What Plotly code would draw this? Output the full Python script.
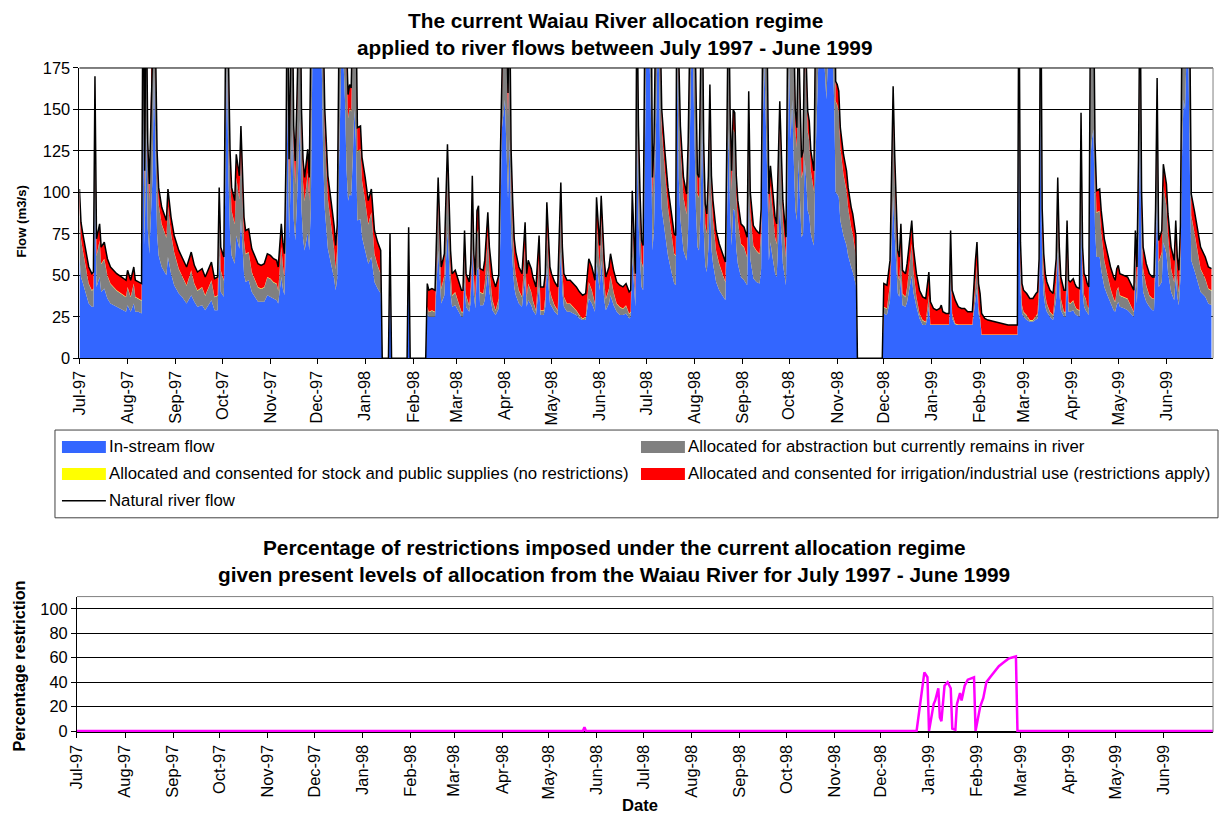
import pandas as pd
import plotly.graph_objects as go

# ---------------------------------------------------------------------------
# Waiau River daily flows, July 1997 - June 1999 (m3/s)
# flow_day: days since 1 July 1997; zero flows mark missing record
# ---------------------------------------------------------------------------
flow_day = [
    0, 1, 2, 4, 6, 8, 9, 10, 11, 13, 14, 16, 18, 20, 24, 27, 30, 31, 33, 35,
    36, 38, 40, 41, 42, 43, 44, 45, 47, 48, 49, 50, 51, 53, 56, 57, 59, 61, 64, 66,
    69, 72, 74, 76, 79, 81, 83, 85, 87, 89, 90, 91, 93, 94, 95, 96, 97, 98, 100, 101,
    103, 104, 106, 107, 109, 111, 113, 115, 117, 119, 121, 123, 125, 127, 128, 130, 131, 132, 133, 134,
    135, 136, 137, 138, 139, 140, 141, 142, 143, 144, 145, 147, 148, 149, 150, 151, 152, 153, 154, 155,
    156, 157, 158, 160, 162, 164, 165, 166, 167, 168, 169, 170, 171, 172, 173, 174, 175, 176, 177, 178,
    179, 181, 182, 184, 186, 188, 190, 192, 194, 195, 199, 200, 201, 211, 212, 213, 223, 224, 225, 227,
    229, 231, 233, 235, 237, 239, 240, 242, 244, 246, 247, 248, 249, 251, 252, 253, 254, 255, 256, 257,
    258, 260, 261, 263, 264, 266, 268, 270, 271, 272, 274, 275, 276, 277, 278, 279, 280, 281, 283, 285,
    287, 288, 289, 291, 292, 294, 296, 297, 299, 300, 301, 303, 304, 306, 308, 310, 311, 312, 314, 316,
    318, 320, 322, 324, 326, 328, 330, 332, 333, 335, 336, 338, 339, 341, 342, 344, 346, 348, 350, 352,
    354, 355, 356, 358, 359, 360, 361, 362, 363, 364, 365, 366, 367, 368, 369, 370, 371, 372, 373, 374,
    375, 377, 379, 381, 383, 384, 385, 386, 387, 389, 391, 392, 393, 394, 395, 396, 397, 398, 399, 400,
    401, 402, 403, 404, 405, 406, 407, 408, 410, 412, 414, 416, 417, 418, 419, 420, 421, 422, 423, 424,
    426, 428, 430, 431, 432, 433, 434, 436, 438, 439, 440, 441, 442, 443, 444, 445, 446, 448, 449, 451,
    452, 453, 455, 456, 457, 458, 459, 460, 461, 462, 463, 464, 465, 466, 467, 468, 469, 470, 471, 472,
    473, 474, 475, 476, 477, 478, 479, 480, 481, 482, 483, 484, 485, 486, 487, 488, 489, 490, 492, 494,
    495, 496, 497, 498, 499, 500, 501, 517, 518, 520, 522, 523, 524, 525, 526, 527, 528, 529, 530, 532,
    533, 535, 536, 537, 538, 539, 541, 543, 545, 546, 547, 548, 550, 552, 554, 555, 556, 558, 560, 561,
    562, 564, 566, 568, 570, 572, 575, 577, 578, 579, 580, 581, 583, 585, 589, 594, 598, 604, 605, 606,
    607, 608, 610, 612, 614, 616, 617, 618, 619, 620, 621, 622, 623, 625, 627, 629, 630, 631, 632, 634,
    635, 636, 637, 638, 640, 641, 642, 644, 645, 646, 647, 648, 649, 650, 651, 652, 653, 654, 655, 657,
    658, 660, 662, 664, 666, 667, 668, 669, 670, 673, 675, 677, 679, 680, 681, 682, 683, 684, 685, 687,
    689, 691, 692, 693, 694, 695, 697, 698, 700, 701, 703, 705, 706, 707, 708, 709, 710, 711, 712, 713,
    714, 715, 716, 718, 720, 722, 725, 727, 729,
]

natural_flow = [
    102, 82, 76, 66, 55, 51, 52, 170, 72, 81, 67, 70, 60, 55, 51, 49, 47, 53, 47, 55,
    47, 46, 45, 250, 113, 230, 130, 105, 180, 290, 190, 125, 103, 91, 83, 102, 85, 74, 65, 61,
    55, 64, 56, 52, 54, 49, 53, 58, 48, 49, 103, 67, 61, 170, 300, 180, 125, 103, 95, 123,
    110, 140, 85, 77, 78, 66, 62, 57, 56, 57, 63, 62, 60, 59, 55, 81, 70, 63, 120, 260,
    120, 180, 230, 140, 119, 154, 200, 240, 150, 120, 109, 126, 109, 150, 300, 360, 330, 300, 320, 340,
    300, 200, 150, 110, 95, 80, 68, 80, 180, 300, 330, 300, 260, 190, 159, 165, 163, 200, 250, 220,
    139, 140, 121, 109, 95, 102, 77, 70, 65, 0, 0, 75, 0, 0, 79, 0, 0, 45, 41, 42,
    41, 109, 55, 63, 129, 65, 51, 53, 47, 41, 41, 77, 51, 46, 57, 110, 63, 50, 89, 92,
    54, 53, 59, 88, 67, 49, 43, 50, 119, 230, 260, 200, 160, 220, 125, 95, 72, 64, 55, 51,
    82, 51, 59, 54, 49, 43, 74, 43, 43, 51, 94, 55, 51, 46, 43, 106, 67, 51, 47, 47,
    45, 43, 40, 38, 39, 60, 55, 47, 97, 68, 98, 59, 49, 55, 63, 53, 46, 44, 43, 45,
    40, 41, 101, 51, 230, 140, 100, 71, 68, 200, 310, 330, 310, 250, 109, 130, 200, 290, 310, 200,
    150, 125, 103, 89, 75, 74, 300, 180, 140, 109, 99, 130, 200, 300, 310, 220, 150, 111, 109, 150,
    240, 130, 93, 87, 110, 165, 110, 95, 77, 69, 63, 58, 140, 230, 150, 113, 150, 148, 110, 95,
    81, 79, 73, 161, 100, 88, 80, 77, 75, 90, 230, 300, 250, 180, 99, 116, 105, 85, 81, 155,
    125, 95, 73, 200, 300, 220, 260, 200, 150, 139, 200, 160, 121, 125, 200, 180, 149, 143, 125, 119,
    113, 200, 280, 340, 360, 350, 320, 300, 260, 300, 330, 340, 310, 260, 167, 165, 161, 139, 123, 113,
    103, 96, 91, 87, 80, 74, 0, 0, 45, 44, 59, 120, 164, 123, 89, 65, 61, 81, 53, 51,
    57, 75, 83, 67, 59, 51, 41, 37, 36, 44, 52, 34, 30, 29, 30, 32, 28, 27, 27, 77,
    41, 35, 31, 30, 30, 28, 28, 59, 70, 45, 39, 27, 24, 23, 22, 21, 20, 20, 240, 70,
    45, 41, 39, 36, 36, 39, 40, 60, 250, 90, 63, 51, 46, 41, 39, 60, 109, 67, 49, 41,
    41, 83, 47, 46, 48, 45, 43, 42, 148, 67, 51, 49, 45, 43, 200, 220, 230, 130, 101, 102,
    89, 72, 63, 55, 49, 47, 54, 56, 51, 50, 49, 45, 41, 77, 55, 120, 230, 100, 67, 57,
    51, 49, 49, 90, 169, 71, 77, 117, 105, 87, 67, 59, 83, 61, 53, 80, 200, 260, 250, 310,
    320, 200, 99, 89, 77, 67, 61, 55, 54,
]

# flow left in the river after all allocation is taken
instream_flow = [
    61, 49, 46, 40, 33, 31, 31, 102, 43, 49, 40, 42, 36, 33, 31, 29, 28, 32, 28, 33,
    28, 28, 27, 150, 68, 138, 78, 63, 108, 174, 114, 75, 62, 55, 50, 61, 51, 44, 39, 37,
    33, 38, 34, 31, 32, 29, 32, 35, 29, 29, 62, 40, 37, 102, 180, 108, 75, 62, 57, 74,
    66, 84, 51, 46, 47, 40, 37, 34, 34, 34, 38, 37, 36, 35, 33, 49, 42, 38, 72, 156,
    72, 108, 138, 84, 71, 92, 120, 144, 90, 72, 65, 76, 65, 90, 180, 216, 198, 180, 192, 204,
    180, 120, 90, 66, 57, 48, 41, 48, 108, 180, 198, 180, 156, 114, 95, 99, 98, 120, 150, 132,
    83, 84, 73, 65, 57, 61, 46, 42, 39, 0, 0, 45, 0, 0, 47, 0, 0, 27, 25, 25,
    25, 65, 33, 38, 77, 39, 31, 32, 28, 25, 25, 46, 31, 28, 34, 66, 38, 30, 53, 55,
    32, 32, 35, 53, 40, 29, 26, 30, 71, 138, 156, 120, 96, 132, 75, 57, 43, 38, 33, 31,
    49, 31, 35, 32, 29, 26, 44, 26, 26, 31, 56, 33, 31, 28, 26, 64, 40, 31, 28, 28,
    27, 26, 24, 23, 23, 36, 33, 28, 58, 41, 59, 35, 29, 33, 38, 32, 28, 26, 26, 27,
    24, 25, 61, 31, 138, 84, 60, 43, 41, 120, 186, 198, 186, 150, 65, 78, 120, 174, 186, 120,
    90, 75, 62, 53, 45, 44, 180, 108, 84, 65, 59, 78, 120, 180, 186, 132, 90, 67, 65, 90,
    144, 78, 56, 52, 66, 99, 66, 57, 46, 41, 38, 35, 84, 138, 90, 68, 90, 89, 66, 57,
    49, 47, 44, 97, 60, 53, 48, 46, 45, 54, 138, 180, 150, 108, 59, 70, 63, 51, 49, 93,
    75, 57, 44, 120, 180, 132, 156, 120, 90, 83, 120, 96, 73, 75, 120, 108, 89, 86, 75, 71,
    68, 120, 168, 204, 216, 210, 192, 180, 156, 180, 198, 204, 186, 156, 100, 99, 97, 83, 74, 68,
    62, 58, 55, 52, 48, 44, 0, 0, 27, 26, 35, 72, 98, 74, 53, 39, 37, 49, 32, 31,
    34, 45, 50, 40, 35, 31, 24, 20, 20, 24, 31, 20, 20, 20, 20, 20, 20, 20, 20, 46,
    24, 20, 20, 20, 20, 20, 20, 35, 42, 27, 23, 14, 14, 14, 14, 14, 14, 14, 144, 42,
    27, 25, 23, 22, 22, 23, 24, 36, 150, 54, 38, 31, 28, 25, 23, 36, 65, 40, 29, 25,
    25, 50, 28, 28, 29, 27, 26, 25, 89, 40, 31, 29, 27, 26, 120, 132, 138, 78, 61, 61,
    53, 43, 38, 33, 29, 28, 32, 34, 31, 30, 29, 27, 25, 46, 33, 72, 138, 60, 40, 34,
    31, 29, 29, 54, 101, 43, 46, 70, 63, 52, 40, 35, 50, 37, 32, 48, 120, 156, 150, 186,
    192, 120, 59, 53, 46, 40, 37, 33, 32,
]

# consented irrigation / industrial take actually available (after restrictions)
irrigation_take = [
    10, 10, 10, 10, 10, 10, 10, 10, 10, 10, 10, 10, 10, 10, 10, 10, 10, 10, 10, 10,
    10, 10, 10, 10, 10, 10, 10, 10, 10, 10, 10, 10, 10, 10, 10, 10, 10, 10, 11, 11,
    11, 11, 11, 11, 11, 11, 11, 11, 11, 11, 11, 14, 14, 14, 14, 14, 14, 14, 14, 14,
    14, 14, 14, 14, 14, 14, 14, 14, 14, 14, 14, 14, 14, 14, 14, 14, 14, 14, 14, 14,
    14, 14, 14, 14, 14, 14, 14, 14, 14, 14, 14, 14, 14, 14, 14, 14, 14, 14, 14, 14,
    14, 14, 14, 14, 14, 14, 14, 14, 14, 14, 14, 14, 14, 14, 14, 14, 14, 14, 14, 14,
    14, 14, 14, 14, 14, 14, 14, 14, 14, 0, 0, 14, 0, 0, 14, 0, 0, 14, 13, 13,
    13, 13, 13, 13, 13, 13, 13, 13, 13, 13, 13, 13, 13, 14, 14, 14, 14, 14, 14, 14,
    14, 14, 14, 14, 14, 14, 14, 14, 14, 14, 14, 14, 14, 14, 14, 14, 14, 14, 14, 14,
    14, 14, 14, 14, 14, 14, 14, 14, 14, 14, 14, 14, 14, 14, 14, 14, 14, 14, 14, 14,
    14, 14, 14, 14, 14, 14, 14, 14, 14, 13, 13, 13, 13, 13, 13, 13, 13, 13, 13, 13,
    13, 13, 13, 13, 13, 13, 13, 13, 13, 13, 12, 12, 12, 12, 12, 12, 12, 12, 12, 12,
    12, 12, 12, 12, 12, 12, 12, 12, 12, 12, 12, 12, 12, 12, 12, 12, 12, 12, 12, 12,
    12, 12, 12, 12, 12, 12, 12, 12, 12, 12, 12, 12, 12, 12, 12, 12, 12, 12, 12, 12,
    12, 12, 12, 12, 12, 12, 12, 12, 12, 12, 12, 12, 12, 12, 12, 12, 12, 12, 12, 12,
    12, 12, 12, 12, 12, 12, 12, 12, 12, 12, 12, 12, 12, 12, 12, 12, 12, 12, 12, 12,
    12, 12, 12, 12, 12, 12, 12, 12, 12, 12, 12, 12, 12, 12, 12, 12, 12, 12, 12, 12,
    12, 12, 12, 12, 12, 12, 0, 0, 14, 14, 14, 14, 14, 14, 14, 14, 14, 14, 14, 14,
    14, 14, 14, 14, 14, 14, 14, 14, 14, 14, 14, 13.7, 9.7, 8.7, 9.7, 11.7, 7.7, 6.7, 6.7, 14,
    14, 14, 10.7, 9.7, 9.7, 7.7, 7.7, 14, 14, 14, 14, 12.7, 9.7, 8.7, 7.7, 6.7, 5.7, 5.7, 13, 13,
    13, 13, 13, 13, 13, 13, 13, 13, 13, 13, 13, 13, 13, 13, 13, 13, 13, 13, 13, 13,
    13, 13, 13, 13, 13, 13, 13, 13, 13, 13, 13, 13, 13, 13, 13, 13, 13, 13, 13, 13,
    13, 13, 13, 13, 13, 13, 13, 13, 13, 13, 13, 13, 13, 13, 13, 13, 13, 13, 13, 13,
    13, 13, 13, 13, 13, 13, 13, 13, 13, 13, 13, 13, 13, 13, 13, 13, 13, 13, 13, 13,
    13, 13, 13, 13, 13, 13, 13, 13, 13,
]

STOCK_SUPPLY = 0.3  # stock and public supply take (m3/s), never restricted

# percentage restriction on irrigation takes (days since 1 July 1997)
restriction_day = [
    0, 326, 327, 328, 541, 546, 548, 549, 552, 553, 555, 556, 557, 559, 561, 563, 564, 566, 567, 569,
    570, 572, 574, 577, 578, 579, 582, 584, 586, 589, 591, 594, 597, 600, 602, 604, 605, 606, 733,
]
restriction_pct = [
    0, 0, 3, 0, 0, 48, 44, 0, 22, 25, 35, 11, 8, 37, 40, 35, 2, 1, 22, 31,
    25, 37, 42, 44, 44, 0, 20, 27, 40, 45, 48, 53, 56, 59, 60, 61, 61, 0, 0,
]

month_ticks = ["Jul-97", "Aug-97", "Sep-97", "Oct-97", "Nov-97", "Dec-97", "Jan-98", "Feb-98",
               "Mar-98", "Apr-98", "May-98", "Jun-98", "Jul-98", "Aug-98", "Sep-98", "Oct-98",
               "Nov-98", "Dec-98", "Jan-99", "Feb-99", "Mar-99", "Apr-99", "May-99", "Jun-99"]

# ---------------------------------------------------------------------------
START = pd.Timestamp("1997-07-01")
dates = START + pd.to_timedelta(flow_day, unit="D")
r_dates = START + pd.to_timedelta(restriction_day, unit="D")
tick_dates = pd.date_range("1997-07-01", periods=len(month_ticks), freq="MS")

stock = [STOCK_SUPPLY if n > 0 else 0.0 for n in natural_flow]
remaining = [max(n - b - r - s, 0.0) for n, b, r, s in
             zip(natural_flow, instream_flow, irrigation_take, stock)]

FONT = "Arial, Liberation Sans, sans-serif"

# Figure size, plus the conversion from window positions to paper fractions:
# the page keeps an 8px body margin and the view of the page spans 1235x834.
W, H = 1227, 826
BODY = 8
SX, SY = 1235 / 1227, 834 / 818
FS = 1.013  # matching text enlargement


def fx(px):
    return (px * SX - BODY) / W


def fy(py):
    return 1 - (py * SY - BODY) / H


def fs(size):
    return round(size * FS, 1)


fig = go.Figure()

area_series = [
    ("In-stream flow", instream_flow, "#3366FF"),
    ("Allocated for abstraction but currently remains in river", remaining, "#808080"),
    ("Allocated and consented for stock and public supplies (no restrictions)", stock, "#FFFF00"),
    ("Allocated and consented for irrigation/industrial use (restrictions apply)", irrigation_take, "#FF0000"),
]
for name, vals, col in area_series:
    fig.add_trace(go.Scatter(
        x=dates, y=vals, name=name, stackgroup="flow", mode="lines",
        line=dict(width=0, color=col), fillcolor=col, xaxis="x", yaxis="y",
    ))

fig.add_trace(go.Scatter(
    x=dates, y=natural_flow, name="Natural river flow", mode="lines",
    line=dict(color="black", width=1.5), xaxis="x", yaxis="y",
))

fig.add_trace(go.Scatter(
    x=r_dates, y=restriction_pct, name="Restriction", mode="lines",
    line=dict(color="#FF00FF", width=2.5), xaxis="x2", yaxis="y2",
))

x_common = dict(
    type="date", tickvals=tick_dates, ticktext=month_ticks, tickangle=-90,
    ticks="outside", ticklen=5, tickcolor="black", showline=True, linecolor="black",
    linewidth=1, showgrid=False, zeroline=False,
    tickfont=dict(family=FONT, size=fs(16.2), color="black"),
)
y_common = dict(
    ticks="outside", ticklen=5, tickcolor="black", showline=True, linecolor="black",
    linewidth=1, showgrid=True, gridcolor="black", gridwidth=1, zeroline=False,
    tickfont=dict(family=FONT, size=fs(16.2), color="black"),
)

fig.update_layout(
    width=W, height=H, margin=dict(l=0, r=0, t=0, b=0),
    paper_bgcolor="white", plot_bgcolor="white", showlegend=False,
    font=dict(family=FONT, color="black"),
    xaxis=dict(domain=[fx(77.5), fx(1213)], anchor="y",
               range=["1997-07-01", "1999-07-01"], **x_common),
    yaxis=dict(domain=[fy(358), fy(67)], anchor="x", range=[0, 175],
               tickvals=[0, 25, 50, 75, 100, 125, 150, 175], **y_common),
    xaxis2=dict(domain=[fx(75), fx(1213)], anchor="y2",
                range=["1997-07-01", "1999-07-03"], **x_common),
    yaxis2=dict(domain=[fy(733), fy(597)], anchor="x2", range=[-1, 110],
                tickvals=[0, 20, 40, 60, 80, 100], **y_common),
)

shapes = [
    # plot-area frames
    dict(type="line", xref="paper", yref="paper", x0=fx(77.5), x1=fx(1213), y0=fy(67), y1=fy(67),
         line=dict(color="black", width=1), layer="above"),
    dict(type="line", xref="paper", yref="paper", x0=fx(1213), x1=fx(1213), y0=fy(67), y1=fy(358),
         line=dict(color="#808080", width=1), layer="above"),
    dict(type="line", xref="paper", yref="paper", x0=fx(75), x1=fx(1213), y0=fy(597), y1=fy(597),
         line=dict(color="#808080", width=1), layer="above"),
    dict(type="line", xref="paper", yref="paper", x0=fx(1213), x1=fx(1213), y0=fy(597), y1=fy(733),
         line=dict(color="#808080", width=1), layer="above"),
    # legend box
    dict(type="rect", xref="paper", yref="paper", x0=fx(53), x1=fx(1218), y0=fy(518), y1=fy(430),
         line=dict(color="#404040", width=1), fillcolor="rgba(0,0,0,0)"),
]

legend_rows = [
    (60, 447, "#3366FF", area_series[0][0]),
    (640, 447, "#808080", area_series[1][0]),
    (60, 474, "#FFFF00", area_series[2][0]),
    (640, 474, "#FF0000", area_series[3][0]),
]
annotations = []
for x0, yc, col, label in legend_rows:
    shapes.append(dict(type="rect", xref="paper", yref="paper", x0=fx(x0), x1=fx(x0 + 44),
                       y0=fy(yc + 6), y1=fy(yc - 6), line=dict(width=0), fillcolor=col))
    annotations.append(dict(x=fx(x0 + 45), y=fy(yc), xref="paper", yref="paper", text=label,
                            showarrow=False, xanchor="left", yanchor="middle",
                            font=dict(family=FONT, size=fs(16.6), color="black")))
shapes.append(dict(type="line", xref="paper", yref="paper", x0=fx(60), x1=fx(104),
                   y0=fy(501), y1=fy(501), line=dict(color="black", width=1.5)))
annotations.append(dict(x=fx(105), y=fy(501), xref="paper", yref="paper", text="Natural river flow",
                        showarrow=False, xanchor="left", yanchor="middle",
                        font=dict(family=FONT, size=fs(16.6), color="black")))

titles = [
    (614, 19, "The current Waiau River allocation regime"),
    (614, 46, "applied to river flows between July 1997 - June 1999"),
    (613, 548, "Percentage of restrictions imposed under the current allocation regime"),
    (613, 575, "given present levels of allocation from the Waiau River for July 1997 - June 1999"),
]
for x, y, t in titles:
    annotations.append(dict(x=fx(x), y=fy(y), xref="paper", yref="paper", text="<b>%s</b>" % t,
                            showarrow=False, xanchor="center", yanchor="middle",
                            font=dict(family=FONT, size=fs(20.5), color="black")))

annotations += [
    dict(x=fx(20), y=fy(221), xref="paper", yref="paper", text="<b>Flow (m3/s)</b>",
         textangle=-90, showarrow=False, xanchor="center", yanchor="middle",
         font=dict(family=FONT, size=fs(13), color="black")),
    dict(x=fx(17), y=fy(667), xref="paper", yref="paper", text="<b>Percentage restriction</b>",
         textangle=-90, showarrow=False, xanchor="center", yanchor="middle",
         font=dict(family=FONT, size=fs(16), color="black")),
    dict(x=fx(639), y=fy(806), xref="paper", yref="paper", text="<b>Date</b>",
         showarrow=False, xanchor="center", yanchor="middle",
         font=dict(family=FONT, size=fs(16.4), color="black")),
]

fig.update_layout(shapes=shapes, annotations=annotations)

fig.write_html("out.html")
